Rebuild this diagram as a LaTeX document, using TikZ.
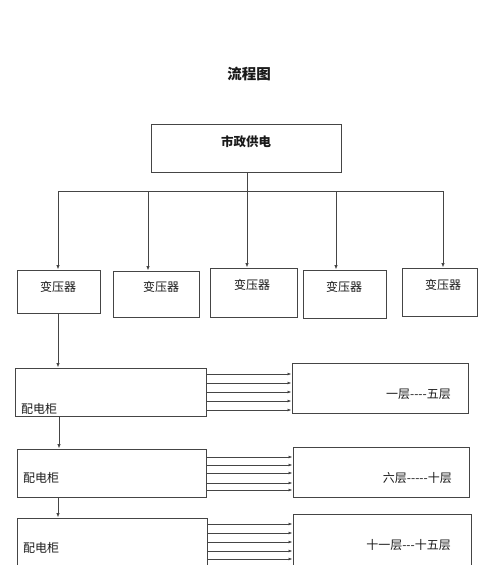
\documentclass[tikz,border=0pt]{standalone}
\usepackage{fontspec}
\setmainfont{Noto Sans CJK SC}[Ligatures=TeXOff]
\usetikzlibrary{arrows.meta}
\definecolor{ln}{HTML}{454545}
\definecolor{tx}{HTML}{1A1A1A}
\tikzset{
  box/.style={draw=ln, line width=1pt, rectangle, inner sep=0pt, fill=white},
  lbl/.style={text=tx, inner sep=0pt, font=\fontsize{12}{13}\selectfont},
  conn/.style={draw=ln, line width=0.9pt},
  arr/.style={conn, -{Latex[length=4.5pt,width=3.5pt]}},
  farr/.style={conn, line width=0.8pt, -{Latex[length=4pt,width=3pt]}}
}
\newcommand{\boxat}[5]{% name, x1, y1, x2, y2
  \node[box, minimum width={#4-#2}, minimum height={#5-#3}] (#1) at ({(#2+#4)/2},{(#3+#5)/2}) {};}
\begin{document}
\begin{tikzpicture}[x=1pt,y=-1pt]
\useasboundingbox[fill=white] (0,0) rectangle (500,565);
\clip (0,0) rectangle (500,565);
% title
\node[lbl, font=\fontsize{14.5}{16}\selectfont\bfseries] (title) at (249,74) {流程图};
% top box
\boxat{top}{151}{124}{341}{172}
\node[lbl, font=\fontsize{12.5}{14}\selectfont\bfseries] (toptx) at (246,142) {市政供电};
% transformers
\boxat{t1}{17}{270}{100}{313}
\boxat{t2}{113}{271}{199}{317}
\boxat{t3}{210}{268}{297}{317}
\boxat{t4}{303}{270}{386}{318}
\boxat{t5}{402}{268}{477}{316}
\node[lbl] (t1x) at (58,287) {变压器};
\node[lbl] (t2x) at (161,287) {变压器};
\node[lbl] (t3x) at (252,285) {变压器};
\node[lbl] (t4x) at (344,287) {变压器};
\node[lbl] (t5x) at (443,285) {变压器};
% bus
\coordinate (bus) at (247,191);
\coordinate (d1) at (58,191);
\coordinate (d2) at (148,191);
\coordinate (d3) at (247,191);
\coordinate (d4) at (336,191);
\coordinate (d5) at (443,191);
\draw[conn] (top.south -| bus) -- (bus);
\draw[conn] (d1) -- (d5);
\draw[arr] (d1) -- (d1 |- t1.north);
\draw[arr] (d2) -- (d2 |- t2.north);
\draw[arr] (d3) -- (d3 |- t3.north);
\draw[arr] (d4) -- (d4 |- t4.north);
\draw[arr] (d5) -- (d5 |- t5.north);
% distribution cabinets
\boxat{p1}{15}{368}{206}{416}
\boxat{p2}{17}{449}{206}{497}
\boxat{p3}{17}{518}{207}{580}
\node[lbl, anchor=west] (p1x) at (21,409) {配电柜};
\node[lbl, anchor=west] (p2x) at (23,478) {配电柜};
\node[lbl, anchor=west] (p3x) at (23,548) {配电柜};
% floors
\boxat{f1}{292}{363}{468}{413}
\boxat{f2}{293}{447}{469}{497}
\boxat{f3}{293}{514}{471}{580}
\node[lbl, anchor=east] (f1x) at (451,394) {一层----五层};
\node[lbl, anchor=east] (f2x) at (452,478) {六层-----十层};
\node[lbl, anchor=east] (f3x) at (451,545) {十一层---十五层};
% vertical links
\coordinate (v1) at (58,313);
\draw[arr] (v1) -- (v1 |- p1.north);
\coordinate (v2) at (59,416);
\draw[arr] (v2) -- (v2 |- p2.north);
\coordinate (v3) at (58,497);
\draw[arr] (v3) -- (v3 |- p3.north);
% horizontal feeders
\foreach \y in {374,383,392,401,410}{\draw[farr] (p1.east |- 0,\y) -- (f1.west |- 0,\y);}
\foreach \y in {457,465,473,483,490}{\draw[farr] (p2.east |- 0,\y) -- (f2.west |- 0,\y);}
\foreach \y in {524,533,542,551,559}{\draw[farr] (p3.east |- 0,\y) -- (f3.west |- 0,\y);}
\end{tikzpicture}
\end{document}
